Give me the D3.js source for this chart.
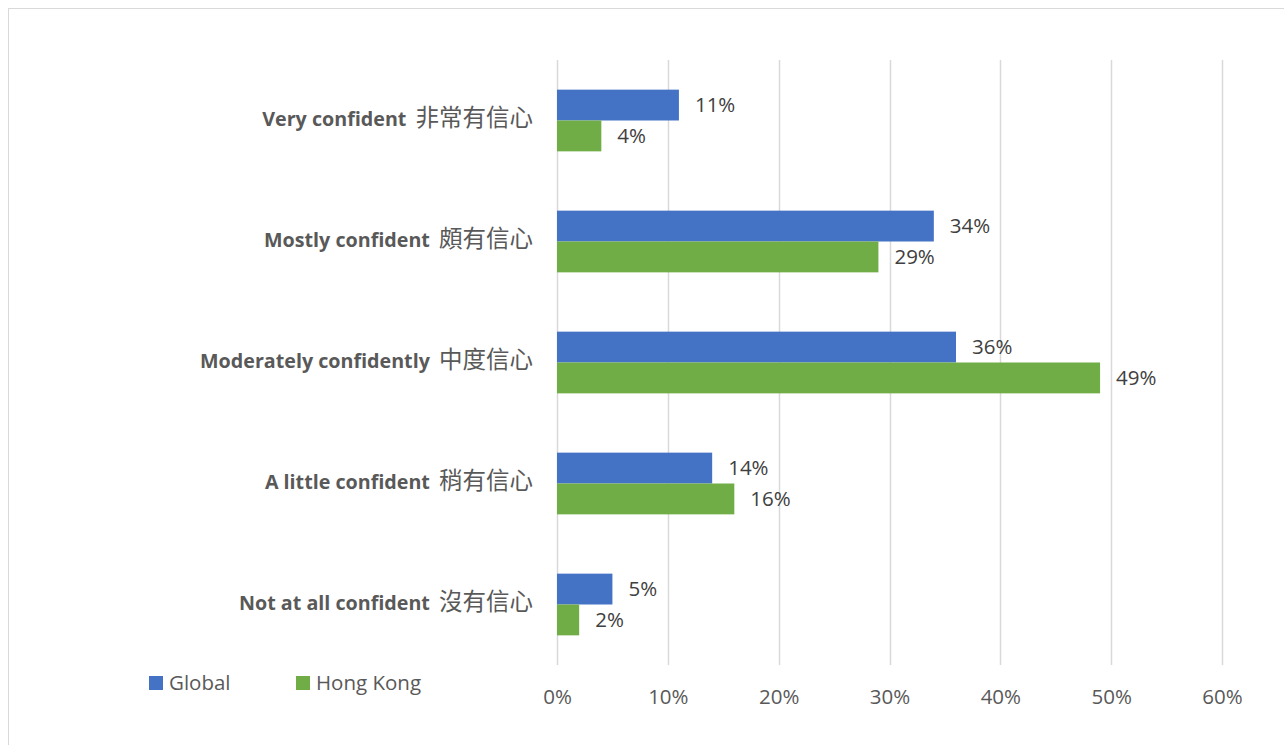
<!DOCTYPE html>
<html>
<head>
<meta charset="utf-8">
<script src="https://cdn.jsdelivr.net/npm/d3@7"></script>
<style>
  html, body { margin: 0; padding: 0; background: #fff; }
  svg { display: block; font-family: "Open Sans", "Noto Sans CJK TC", sans-serif; }
</style>
</head>
<body>
<svg id="chart" width="1284" height="745"></svg>
<script>
// Survey answers, top to bottom: English label and Chinese label
const categoriesEn = [
  "Very confident",
  "Mostly confident",
  "Moderately confidently",
  "A little confident",
  "Not at all confident"
];
const categoriesZh = ["非常有信心", "頗有信心", "中度信心", "稍有信心", "沒有信心"];
const seriesNames = ["Global", "Hong Kong"];
const globalValues = [11, 34, 36, 14, 5];
const hongKongValues = [4, 29, 49, 16, 2];
const tickValues = [0, 10, 20, 30, 40, 50, 60];
const colors = ["#4472C4", "#70AD47"];

const categories = categoriesEn.map((e, i) => e + " " + categoriesZh[i]);

const svg = d3.select("#chart");

// Chart area frame
svg.append("rect")
  .attr("x", 8.5).attr("y", 8.5)
  .attr("width", 1290).attr("height", 760)
  .attr("fill", "none").attr("stroke", "#d9d9d9").attr("stroke-width", 1);

const plot = { left: 557, right: 1222, top: 60, bottom: 665 };

const x = d3.scaleLinear().domain([0, 60]).range([plot.left, plot.right]);
const y = d3.scaleBand().domain(categories).range([plot.top, plot.bottom]).paddingInner(0.49).paddingOuter(0.245);
const ySub = d3.scaleBand().domain(seriesNames).range([0, y.bandwidth()]);

// Vertical gridlines
svg.append("g")
  .selectAll("line")
  .data(tickValues)
  .join("line")
  .attr("x1", d => Math.round(x(d)) + 0.5)
  .attr("x2", d => Math.round(x(d)) + 0.5)
  .attr("y1", plot.top).attr("y2", plot.bottom)
  .attr("stroke", "#d9d9d9").attr("stroke-width", 1.5);

// Tick labels
const xAxis = d3.axisBottom(x).tickValues(tickValues).tickFormat(d => d + "%").tickSize(0).tickPadding(0);
const axisG = svg.append("g").attr("transform", `translate(0,${plot.bottom})`).call(xAxis);
axisG.select(".domain").remove();
axisG.selectAll("text")
  .attr("y", 32).attr("dy", "0.35em")
  .attr("font-family", "'Open Sans', sans-serif")
  .attr("font-size", 20.5).attr("fill", "#595959");

// Category labels: bold English followed by Chinese
const catLabels = svg.append("g")
  .selectAll("text")
  .data(categories)
  .join("text")
  .attr("x", 533)
  .attr("y", d => y(d) + y.bandwidth() / 2)
  .attr("dy", "0.35em")
  .attr("text-anchor", "end")
  .attr("fill", "#595959");
catLabels.append("tspan")
  .attr("font-family", "'Open Sans', sans-serif")
  .attr("font-size", 19.7).attr("font-weight", "bold")
  .text((d, i) => categoriesEn[i] + " ");
catLabels.append("tspan")
  .attr("dx", 4)
  .attr("font-family", "'Noto Sans CJK TC', sans-serif")
  .attr("font-size", 23.5).attr("font-weight", "normal")
  .text((d, i) => categoriesZh[i]);

// Bars and value labels
const rows = categories.map((c, i) => ({ cat: c, values: [globalValues[i], hongKongValues[i]] }));
const groups = svg.append("g").selectAll("g")
  .data(rows)
  .join("g")
  .attr("transform", d => `translate(0,${y(d.cat)})`);

groups.selectAll("rect")
  .data(d => d.values.map((v, j) => ({ name: seriesNames[j], v, j })))
  .join("rect")
  .attr("x", x(0))
  .attr("y", d => ySub(d.name))
  .attr("width", d => x(d.v) - x(0))
  .attr("height", ySub.bandwidth())
  .attr("fill", d => colors[d.j]);

groups.selectAll("text")
  .data(d => d.values.map((v, j) => ({ name: seriesNames[j], v, j })))
  .join("text")
  .attr("x", d => x(d.v) + 16)
  .attr("y", d => ySub(d.name) + ySub.bandwidth() / 2)
  .attr("dy", "0.35em")
  .attr("font-family", "'Open Sans', sans-serif")
  .attr("font-size", 20.5).attr("fill", "#404040")
  .text(d => d.v + "%");

// Legend
const legend = svg.append("g").selectAll("g")
  .data(seriesNames)
  .join("g")
  .attr("transform", (d, i) => `translate(${149 + i * 147},683)`);
legend.append("rect")
  .attr("x", 0).attr("y", -7)
  .attr("width", 14).attr("height", 14)
  .attr("fill", (d, i) => colors[i]);
legend.append("text")
  .attr("x", 20).attr("y", 0).attr("dy", "0.35em")
  .attr("font-family", "'Open Sans', sans-serif")
  .attr("font-size", 20.5).attr("fill", "#595959")
  .text(d => d);
</script>
</body>
</html>
